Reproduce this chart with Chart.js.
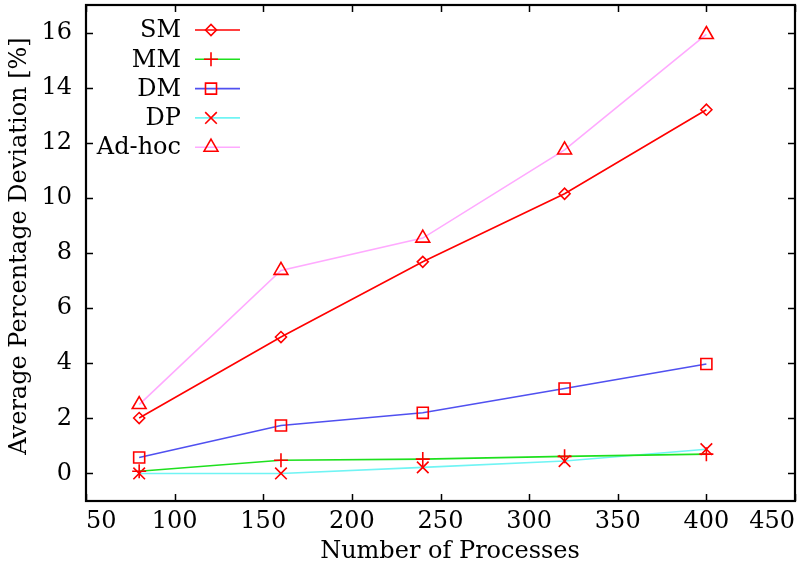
<!DOCTYPE html>
<html>
<head>
<meta charset="utf-8">
<title>Average Percentage Deviation</title>
<script src="https://cdn.jsdelivr.net/npm/chart.js@4.4.1/dist/chart.umd.min.js"></script>
<style>
  html, body { margin: 0; padding: 0; background: #fff; }
  #wrap { width: 797px; height: 572px; }
</style>
</head>
<body>
<div id="wrap"><canvas id="devChart" width="797" height="572"></canvas></div>
<script>
// number of processes on the x axis
const processes = [80, 160, 240, 320, 400];

// average percentage deviation per method
const smDev    = [2.01, 4.95, 7.68, 10.15, 13.2];
const mmDev    = [0.08, 0.48, 0.52, 0.62, 0.70];
const dmDev    = [0.58, 1.74, 2.20, 3.08, 3.97];
const dpDev    = [0.00, 0.00, 0.22, 0.45, 0.88];
const adhocDev = [2.50, 7.37, 8.54, 11.74, 15.93];

const seriesNames = ['SM', 'MM', 'DM', 'DP', 'Ad-hoc'];

const xTicks = [50, 100, 150, 200, 250, 300, 350, 400, 450];
const yTicks = [0, 2, 4, 6, 8, 10, 12, 14, 16];

const FONT = 'DejaVu Serif';
const FONT_SIZE = 24;
const MARK = '#ff0000';

function toPoints(values) {
    return values.map((v, i) => ({ x: processes[i], y: v }));
}

function series(i, values, lineColor, pointStyle, radius) {
    return {
        label: seriesNames[i],
        data: toPoints(values),
        showLine: true,
        borderColor: lineColor,
        borderWidth: 1.6,
        pointStyle: pointStyle,
        pointRadius: radius,
        pointHoverRadius: radius,
        pointBorderColor: MARK,
        pointBackgroundColor: 'rgba(0,0,0,0)',
        pointBorderWidth: 1.6,
        tension: 0
    };
}

const datasets = [
    series(0, smDev,    '#ff0000', 'rectRot',  5.5),
    series(1, mmDev,    '#1ee01e', 'cross',    7),
    series(2, dmDev,    '#5050f0', 'rect',     7.8),
    series(3, dpDev,    '#70f4f4', 'crossRot', 8.2),
    series(4, adhocDev, '#ffaaff', 'triangle', 8)
];

// gnuplot-like frame: box border, inward ticks on every side, axis titles and key
const framePlugin = {
    id: 'gnuplotFrame',
    afterDatasetsDraw(chart) {
        const { ctx, chartArea: a, scales } = chart;
        ctx.save();
        ctx.strokeStyle = '#000';
        ctx.lineWidth = 1.5;
        ctx.beginPath();
        const tl = 7;
        xTicks.forEach(v => {
            const px = Math.round(scales.x.getPixelForValue(v)) + 0.5;
            ctx.moveTo(px, a.bottom); ctx.lineTo(px, a.bottom - tl);
            ctx.moveTo(px, a.top);    ctx.lineTo(px, a.top + tl);
        });
        yTicks.forEach(v => {
            const py = Math.round(scales.y.getPixelForValue(v)) + 0.5;
            ctx.moveTo(a.left, py);  ctx.lineTo(a.left + tl, py);
            ctx.moveTo(a.right, py); ctx.lineTo(a.right - tl, py);
        });
        ctx.stroke();
        ctx.lineWidth = 2.2;
        ctx.strokeRect(a.left, a.top, a.right - a.left, a.bottom - a.top);
        ctx.restore();
    },
    afterDraw(chart) {
        const { ctx } = chart;
        ctx.save();
        ctx.fillStyle = '#000';
        ctx.font = FONT_SIZE + 'px "' + FONT + '"';
        ctx.textAlign = 'center';
        ctx.textBaseline = 'middle';
        ctx.fillText('Number of Processes', 450, 552);
        ctx.translate(20, 246);
        ctx.rotate(-Math.PI / 2);
        ctx.fillText('Average Percentage Deviation [%]', 0, 0);
        ctx.restore();

        // key
        ctx.save();
        ctx.font = FONT_SIZE + 'px "' + FONT + '"';
        ctx.textAlign = 'right';
        ctx.textBaseline = 'middle';
        chart.data.datasets.forEach((ds, i) => {
            const y = 30 + i * 29.3;
            ctx.fillStyle = '#000';
            ctx.fillText(ds.label, 181, y + 1);
            ctx.strokeStyle = ds.borderColor;
            ctx.lineWidth = ds.borderWidth;
            ctx.beginPath();
            ctx.moveTo(195, y);
            ctx.lineTo(240, y);
            ctx.stroke();
            ctx.strokeStyle = MARK;
            ctx.fillStyle = 'rgba(0,0,0,0)';
            ctx.lineWidth = ds.pointBorderWidth;
            Chart.helpers.drawPoint(ctx, {
                pointStyle: ds.pointStyle,
                rotation: 0,
                radius: ds.pointRadius,
                borderWidth: ds.pointBorderWidth
            }, 211, y);
        });
        ctx.restore();
    }
};

new Chart(document.getElementById('devChart'), {
    type: 'scatter',
    data: { datasets: datasets },
    options: {
        responsive: false,
        animation: false,
        devicePixelRatio: 1,
        layout: {
            autoPadding: false,
            padding: { top: 5, right: 2, left: 0, bottom: 0 }
        },
        plugins: {
            legend: { display: false },
            tooltip: { enabled: false }
        },
        scales: {
            x: {
                type: 'linear',
                min: 50,
                max: 450,
                afterBuildTicks: s => { s.ticks = xTicks.map(v => ({ value: v })); },
                afterFit: s => {
                    s.height = 71;
                    s.paddingLeft = 0;
                    s.paddingRight = 0;
                },
                grid: { display: false, drawTicks: false },
                border: { display: false },
                ticks: {
                    color: '#000',
                    padding: 6,
                    align: 'inner',
                    maxRotation: 0,
                    autoSkip: false,
                    font: { family: FONT, size: FONT_SIZE }
                }
            },
            y: {
                type: 'linear',
                min: -1,
                max: 17,
                afterBuildTicks: s => { s.ticks = yTicks.map(v => ({ value: v })); },
                afterFit: s => {
                    s.width = 86;
                    s.paddingTop = 0;
                    s.paddingBottom = 0;
                },
                grid: { display: false, drawTicks: false },
                border: { display: false },
                ticks: {
                    color: '#000',
                    padding: 14,
                    autoSkip: false,
                    font: { family: FONT, size: FONT_SIZE }
                }
            }
        }
    },
    plugins: [framePlugin]
});
</script>
</body>
</html>
